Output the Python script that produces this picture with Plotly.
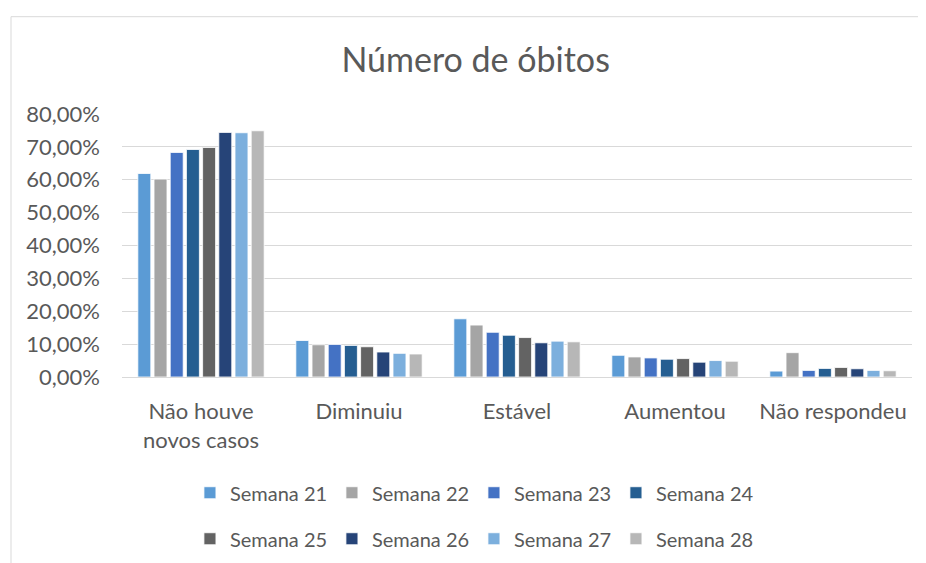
import plotly.graph_objects as go

# categorias e valores (proporção) por semana
categorias = ["Não houve<br>novos casos", "Diminuiu", "Estável", "Aumentou", "Não respondeu"]
semanas = ["Semana 21", "Semana 22", "Semana 23", "Semana 24",
           "Semana 25", "Semana 26", "Semana 27", "Semana 28"]

sem21 = [0.619, 0.111, 0.177, 0.066, 0.018]
sem22 = [0.602, 0.098, 0.158, 0.061, 0.074]
sem23 = [0.683, 0.099, 0.136, 0.058, 0.020]
sem24 = [0.692, 0.096, 0.127, 0.054, 0.026]
sem25 = [0.698, 0.092, 0.120, 0.056, 0.029]
sem26 = [0.744, 0.076, 0.104, 0.045, 0.025]
sem27 = [0.743, 0.072, 0.109, 0.050, 0.020]
sem28 = [0.749, 0.070, 0.107, 0.048, 0.019]

valores = [sem21, sem22, sem23, sem24, sem25, sem26, sem27, sem28]
cores = ["#5B9BD5", "#A5A5A5", "#4472C4", "#255E91",
         "#636363", "#264478", "#7CAFDD", "#B7B7B7"]

FONTE = "Lato, 'Noto Sans', sans-serif"
CINZA = "#595959"

fig = go.Figure()
for i, (nome, vals, cor) in enumerate(zip(semanas, valores, cores)):
    fig.add_trace(go.Bar(
        x=categorias, y=vals, name=nome,
        marker=dict(color=cor, line=dict(color="white", width=0.8)),
        legend="legend" if i < 4 else "legend2",
    ))

# a página tem 8px de margem no body, por isso as margens compensam
fig.update_layout(
    width=926, height=563,
    margin=dict(l=114, r=22, t=106, b=190),
    paper_bgcolor="white", plot_bgcolor="white",
    separators=",.",
    barmode="group", bargap=0.18, bargroupgap=0.2,
    font=dict(family=FONTE, size=20, color=CINZA),
    title=dict(text="Número de óbitos", x=0.505, xref="container", xanchor="center",
               y=0.907, yref="container", yanchor="middle",
               font=dict(family=FONTE, size=34, color=CINZA)),
    legend=dict(orientation="h", x=0.086, xanchor="left", y=-0.44, yanchor="middle",
                entrywidth=97, entrywidthmode="pixels", itemclick=False,
                font=dict(size=20, color=CINZA), tracegroupgap=0),
    legend2=dict(orientation="h", x=0.086, xanchor="left", y=-0.615, yanchor="middle",
                 entrywidth=97, entrywidthmode="pixels", itemclick=False,
                 font=dict(size=20, color=CINZA), tracegroupgap=0),
    shapes=[dict(type="rect", xref="paper", yref="paper",
                 x0=-0.1405, x1=1.2, y0=-1.0, y1=1.37,
                 line=dict(color="#D9D9D9", width=1), fillcolor="rgba(0,0,0,0)",
                 layer="below")],
)

fig.update_yaxes(range=[0, 0.8], dtick=0.1, tickformat=".2%", automargin=False,
                 showgrid=True, gridcolor="#D9D9D9", gridwidth=1,
                 zeroline=False, showline=False, ticks="",
                 ticklabelstandoff=21, tickfont=dict(size=22, color=CINZA))
fig.update_xaxes(showline=True, linecolor="#D9D9D9", linewidth=1, ticks="",
                 automargin=False,
                 ticklabelstandoff=15, tickfont=dict(size=22, color=CINZA))

fig.write_html("out.html")
